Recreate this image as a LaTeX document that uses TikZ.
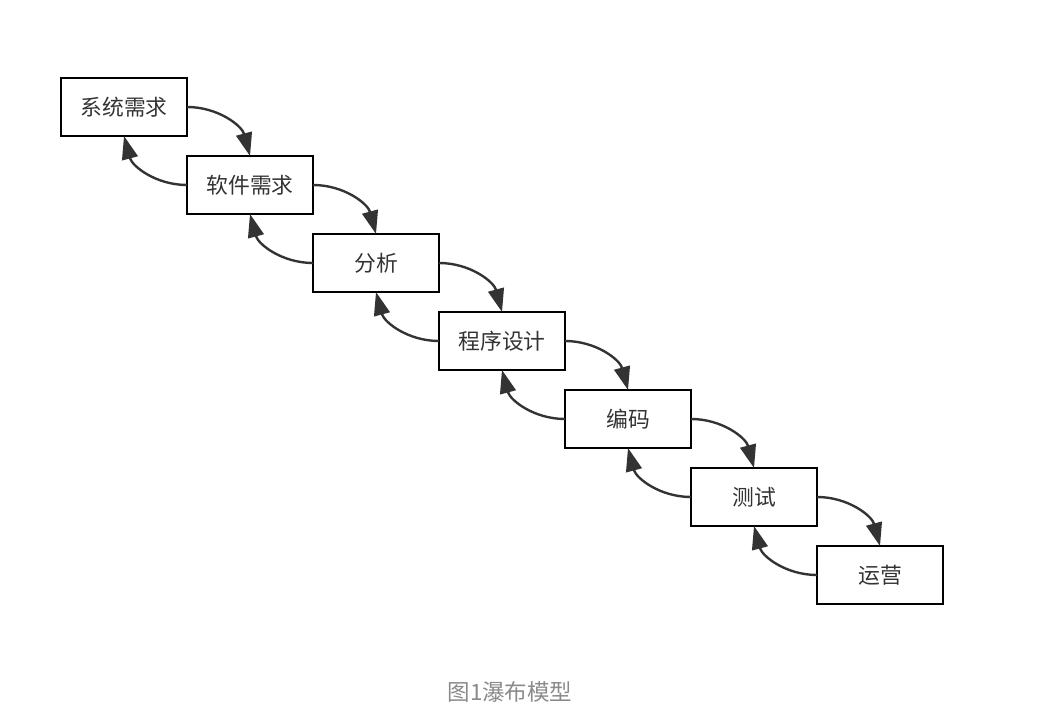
\documentclass[tikz,border=0pt]{standalone}
\usepackage{fontspec}
\setmainfont{Noto Sans CJK SC}
\usetikzlibrary{positioning, arrows.meta}
\definecolor{boxtext}{HTML}{333333}
\definecolor{linegray}{HTML}{333333}
\definecolor{captiongray}{HTML}{8A8A8A}
\tikzset{
    stagebox/.style={draw=black, line width=2pt, outer sep=0pt, minimum width=3.15cm, minimum height=1.45cm, text=boxtext, font=\fontsize{15.5}{18}\selectfont},
    down/.style={->, line width=1.7pt, draw=linegray, out=0, in=105},
    up/.style={->, line width=1.7pt, draw=linegray, out=180, in=-75},
    caption/.style={text=captiongray, font=\fontsize{16}{19}\selectfont}
}

\begin{document}
\begin{tikzpicture}[node distance=0.5cm and 0cm, >={Triangle[length=0.58cm, width=0.4cm]}]
  \useasboundingbox (0,0) rectangle (26.6,-17.85);
  \node(A)[stagebox] at (3.1,-2.675){系统需求};
  \node(B)[stagebox, below right=of A]{软件需求};
  \node(C)[stagebox, below right=of B]{分析};
  \node(D)[stagebox, below right=of C]{程序设计};
  \node(E)[stagebox, below right=of D]{编码};
  \node(F)[stagebox, below right=of E]{测试};
  \node(G)[stagebox, below right=of F]{运营};
  \node(T)[caption] at (12.75,-17.3){图1瀑布模型};
  \draw[down](A.east) to (B.north);
  \draw[down](B.east) to (C.north);
  \draw[down](C.east) to (D.north);
  \draw[down](D.east) to (E.north);
  \draw[down](E.east) to (F.north);
  \draw[down](F.east) to (G.north);
  \draw[up](B.west) to (A.south);
  \draw[up](C.west) to (B.south);
  \draw[up](D.west) to (C.south);
  \draw[up](E.west) to (D.south);
  \draw[up](F.west) to (E.south);
  \draw[up](G.west) to (F.south);
\end{tikzpicture}
\end{document}
